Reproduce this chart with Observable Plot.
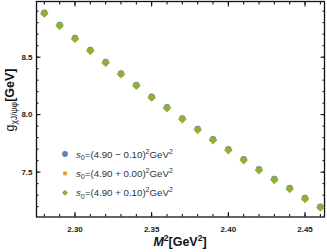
<!DOCTYPE html>
<html><head><meta charset="utf-8">
<script src="https://cdn.jsdelivr.net/npm/d3@7"></script>
<script src="https://cdn.jsdelivr.net/npm/@observablehq/plot@0.6"></script>
<style>body{margin:0;background:#fff;} svg{font-family:"Liberation Sans",Arial,sans-serif;}</style>
</head><body><div id="chart"></div>
<script>
const M2 = [2.28,2.29,2.30,2.31,2.32,2.33,2.34,2.35,2.36,2.37,2.38,2.39,2.40,2.41,2.42,2.43,2.44,2.45,2.46];
const gMinus = [8.887,8.780,8.667,8.562,8.458,8.358,8.259,8.156,8.064,7.968,7.875,7.786,7.699,7.612,7.525,7.440,7.362,7.275,7.200];
const gZero  = [8.883,8.776,8.663,8.558,8.454,8.354,8.254,8.152,8.060,7.964,7.871,7.782,7.695,7.608,7.521,7.436,7.358,7.271,7.196];
const gPlus  = [8.880,8.773,8.660,8.555,8.451,8.351,8.251,8.149,8.057,7.961,7.868,7.779,7.692,7.605,7.518,7.433,7.355,7.268,7.193];
const seriesNames = ["−0.10","+0.00","+0.10"];
const colors = ["#5E81B5","#E19C24","#8FB032"];
const symbols = ["circle","square","diamond2"];
const xMajor = [2.30,2.35,2.40,2.45];
const xMinor = d3.range(2.28,2.465,0.01).map(v=>+v.toFixed(2));
const yMajor = [7.5,8.0,8.5];
const yMinor = d3.range(7.2,9.0,0.1).map(v=>+v.toFixed(1));

const rows = [];
[gMinus,gZero,gPlus].forEach((arr,i)=>arr.forEach((g,j)=>rows.push({x:M2[j], y:g, s:i})));

const W=327,H=252, mL=36, mR=3, mT=1, mB=35.5;
const none = () => "";
const plot = Plot.plot({
  width: W, height: H, marginLeft: mL, marginRight: mR, marginTop: mT, marginBottom: mB,
  style: {fontFamily: "Liberation Sans, Arial, sans-serif", background: "#fff"},
  x: {domain: [2.2749, 2.4627]},
  y: {domain: [7.110, 8.984]},
  marks: [
    Plot.axisX({anchor:"bottom", ticks:xMinor, tickSize:-2.5, tickFormat:none, label:null}),
    Plot.axisX({anchor:"top", ticks:xMinor, tickSize:-2.5, tickFormat:none, label:null}),
    Plot.axisY({anchor:"left", ticks:yMinor, tickSize:-2.5, tickFormat:none, label:null}),
    Plot.axisY({anchor:"right", ticks:yMinor, tickSize:-2.5, tickFormat:none, label:null}),
    Plot.axisX({anchor:"bottom", ticks:xMajor, tickSize:-4.5, tickPadding:14, tickFormat:d3.format(".2f"), label:null, fontSize:8, fontWeight:"bold", fill:"#222"}),
    Plot.axisX({anchor:"top", ticks:xMajor, tickSize:-4.5, tickFormat:none, label:null}),
    Plot.axisY({anchor:"left", ticks:yMajor, tickSize:-4.5, tickPadding:8.5, tickFormat:d3.format(".1f"), label:null, fontSize:8, fontWeight:"bold", fill:"#222"}),
    Plot.axisY({anchor:"right", ticks:yMajor, tickSize:-4.5, tickFormat:none, label:null}),
    Plot.frame({stroke:"#111", strokeWidth:1.3}),
    Plot.dot(rows.filter(d=>d.s===0), {x:"x", y:"y", r:3.2, symbol:symbols[0], fill:colors[0]}),
    Plot.dot(rows.filter(d=>d.s===1), {x:"x", y:"y", r:2.6, symbol:symbols[1], fill:colors[1]}),
    Plot.dot(rows.filter(d=>d.s===2), {x:"x", y:"y", r:3.9, symbol:symbols[2], fill:colors[2]})
  ]
});
document.getElementById("chart").append(plot);

const svg = d3.select(plot);
// Legend
const leg = svg.append("g").attr("font-size", 9.7).attr("fill", "#333").attr("text-anchor","start");
const legSymbols = [d3.symbolCircle, d3.symbolSquare, d3.symbolDiamond2];
const legSizes = [26, 14, 24];
seriesNames.forEach((nm,i)=>{
  const y0 = 154 + i*19.4;
  leg.append("path").attr("d", d3.symbol(legSymbols[i], legSizes[i])()).attr("transform", `translate(65,${y0})`).attr("fill", colors[i]);
  const t = leg.append("text").attr("x", 76).attr("y", y0+3.5).attr("text-anchor","start");
  t.append("tspan").attr("font-style","italic").text("s");
  t.append("tspan").attr("font-size",7).attr("dy",2.5).text("0");
  t.append("tspan").attr("dy",-2.5).text(`=(4.90 ${nm.slice(0,1)} ${nm.slice(1)})`);
  t.append("tspan").attr("font-size",7).attr("dy",-4).text("2");
  t.append("tspan").attr("dy",4).text("GeV");
  t.append("tspan").attr("font-size",7).attr("dy",-4).text("2");
});
// X label
const xl = svg.append("text").attr("x", 180).attr("y", 246).attr("text-anchor","middle").attr("font-size",12.5).attr("font-weight","bold").attr("fill","#111");
xl.append("tspan").attr("font-style","italic").text("M");
xl.append("tspan").attr("font-size",8.5).attr("dy",-5).text("2");
xl.append("tspan").attr("dy",5).text("[GeV");
xl.append("tspan").attr("font-size",8.5).attr("dy",-5).text("2");
xl.append("tspan").attr("dy",5).text("]");
// Y label
const yl = svg.append("text").attr("transform","translate(14,100) rotate(-90)").attr("text-anchor","middle").attr("font-size",12.5).attr("fill","#111");
yl.append("tspan").text("g");
yl.append("tspan").attr("font-size",8.5).attr("dy",3).text("χJ/ψφ");
yl.append("tspan").attr("dy",-3).attr("font-weight","bold").text("[GeV]");
</script></body></html>
